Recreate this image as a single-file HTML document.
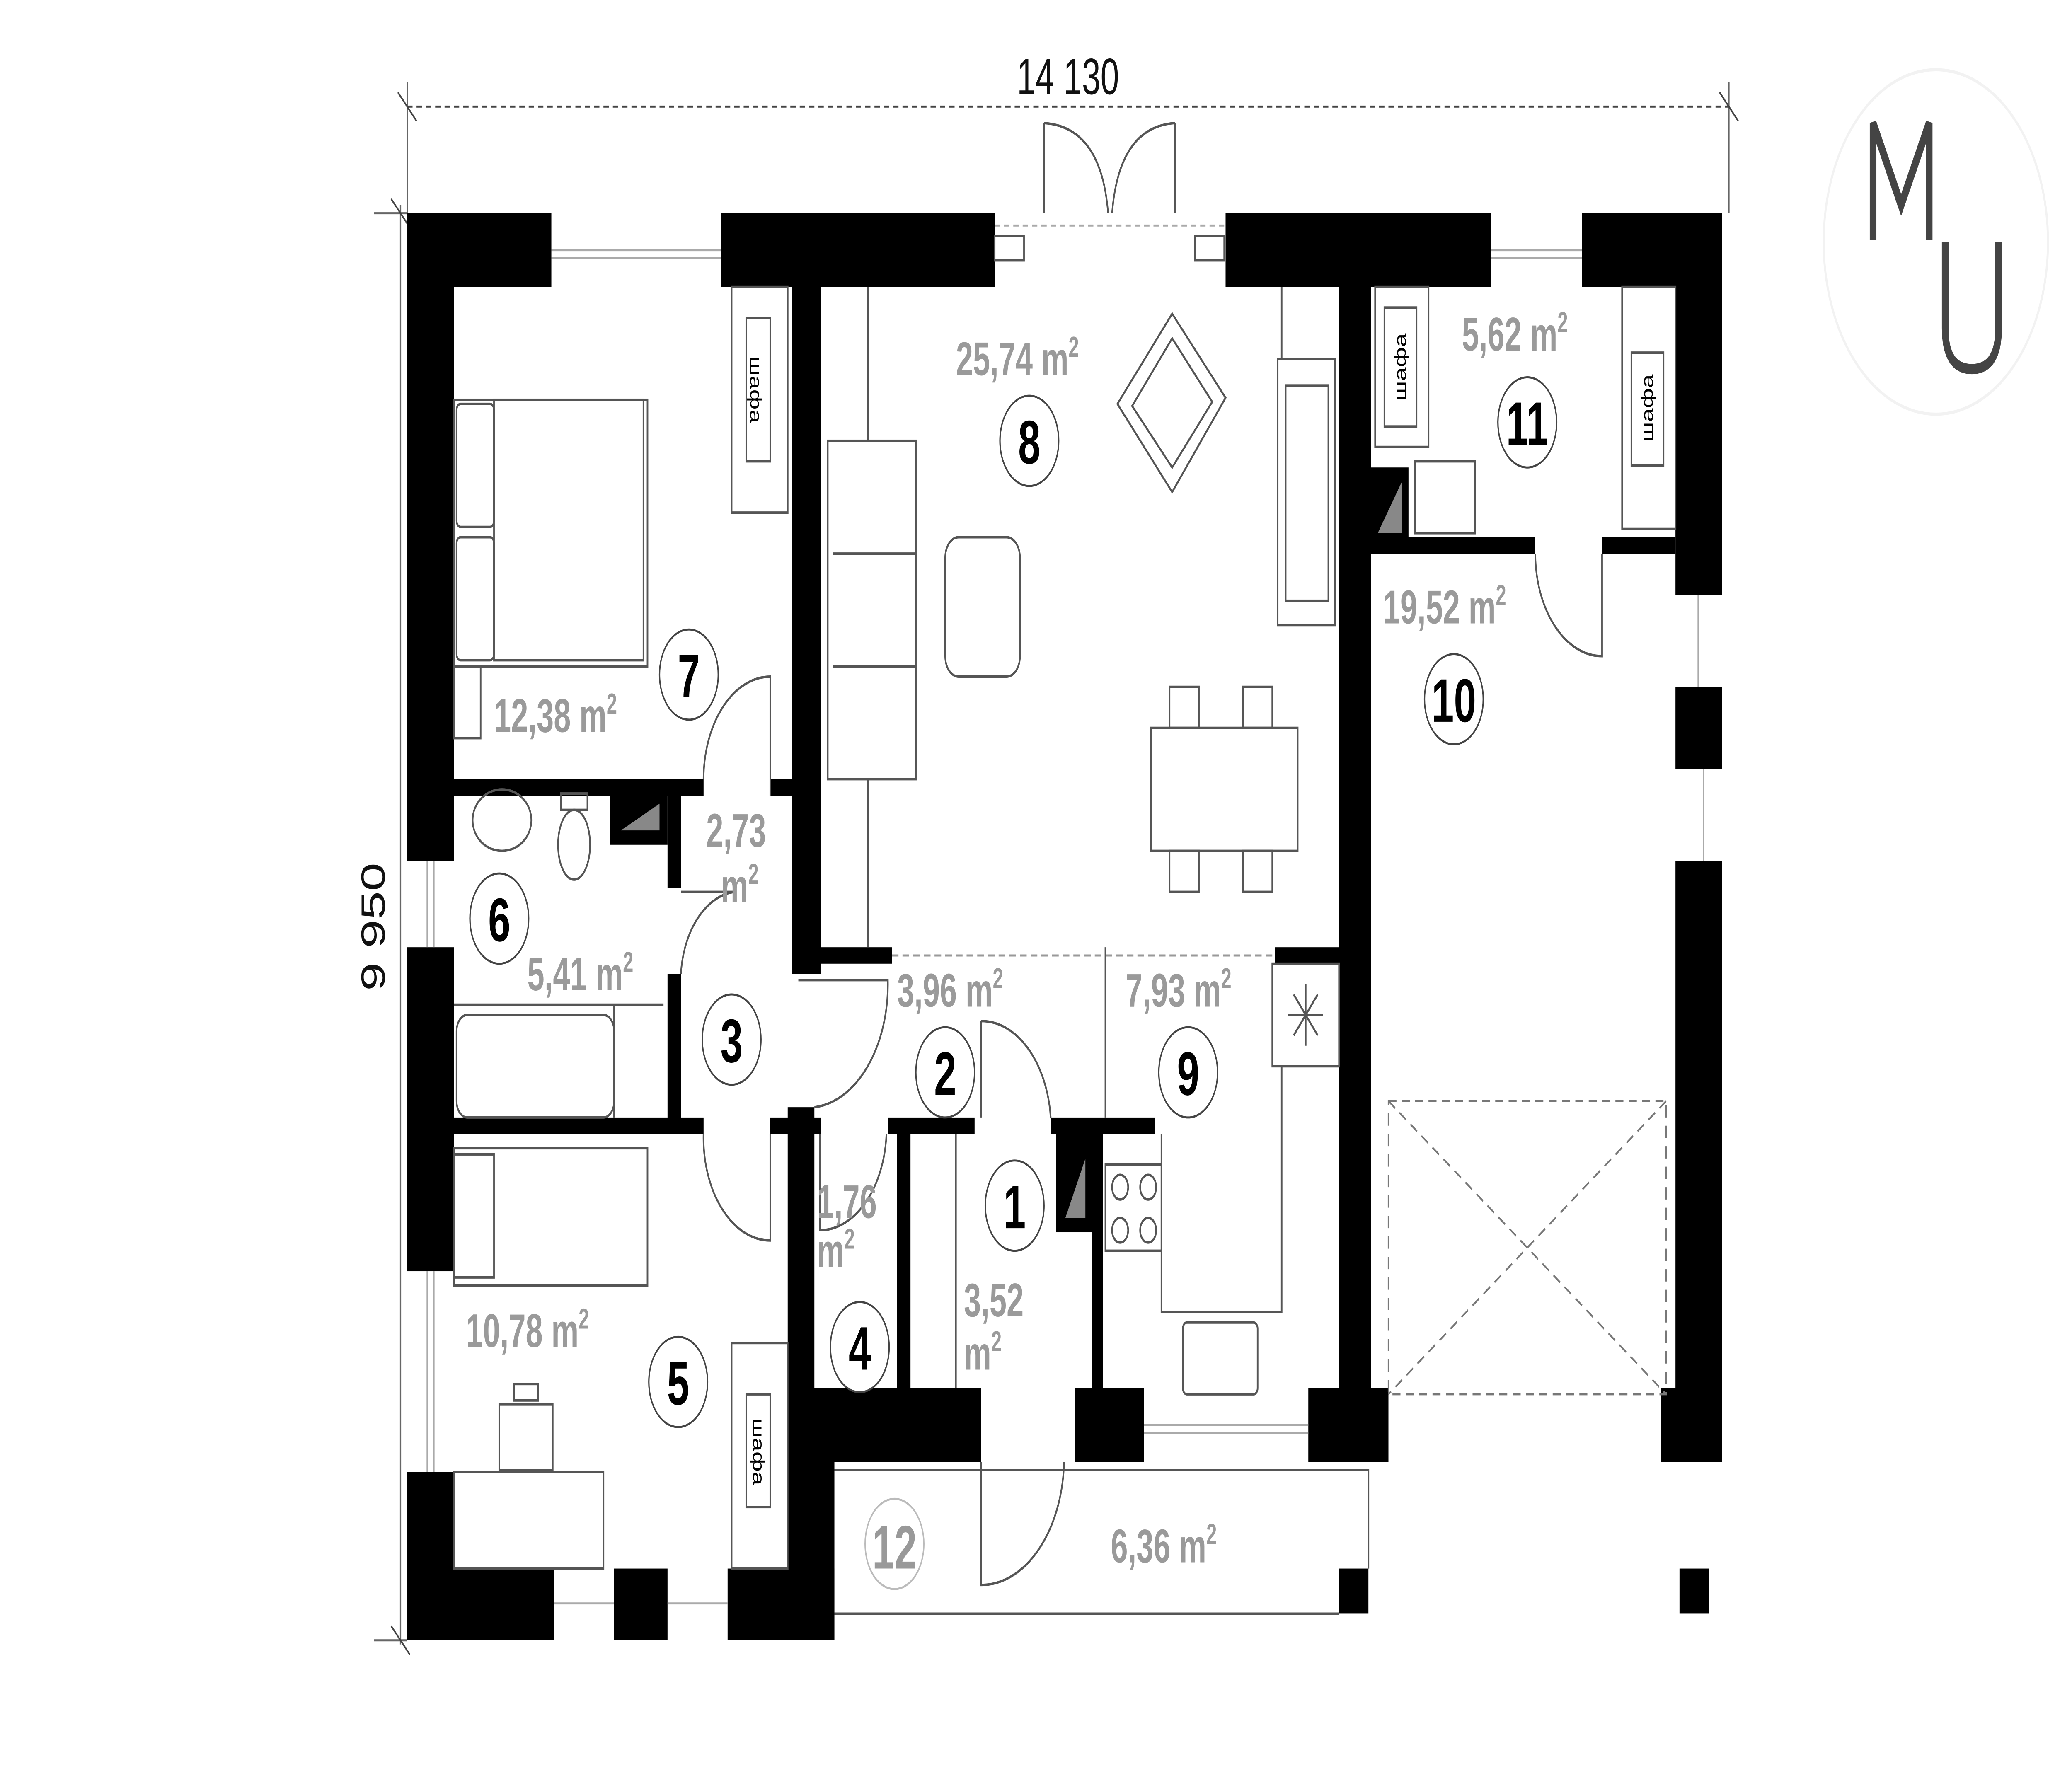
<!DOCTYPE html>
<html><head><meta charset="utf-8"><style>
html,body{margin:0;padding:0;background:#fff;width:100%;height:100%;overflow:hidden;}
svg{display:block;width:100vw;height:100vh;}
.a{font-family:"Liberation Sans",sans-serif;font-weight:bold;font-size:23px;fill:#9a9a9a;}
.n{font-family:"Liberation Sans",sans-serif;font-weight:bold;font-size:30px;fill:#000;text-anchor:middle;}
.t{fill:none;stroke:#555;stroke-width:1.2;}
.l{fill:none;stroke:#aaa;stroke-width:1;}
.w{fill:#fff;stroke:#444;stroke-width:1;}
.s{font-family:"Liberation Sans",sans-serif;font-size:12px;fill:#000;}
</style></head><body>
<svg viewBox="0 0 1552 873" preserveAspectRatio="none" xmlns="http://www.w3.org/2000/svg">
<rect width="1552" height="873" fill="#fff"/>
<line x1="305" y1="52" x2="1295" y2="52" stroke="#444" stroke-width="1" stroke-dasharray="4,3"/>
<line x1="305" y1="40" x2="305" y2="104" stroke="#666"/>
<line x1="1295" y1="40" x2="1295" y2="104" stroke="#666"/>
<line x1="298" y1="45" x2="312" y2="59" stroke="#444"/>
<line x1="1288" y1="45" x2="1302" y2="59" stroke="#444"/>
<text x="800" y="46" font-family="Liberation Sans,sans-serif" font-size="25" text-anchor="middle" fill="#111">14 130</text>
<line x1="300" y1="100" x2="300" y2="802" stroke="#666"/>
<line x1="280" y1="104" x2="305" y2="104" stroke="#666"/>
<line x1="280" y1="800" x2="305" y2="800" stroke="#666"/>
<line x1="293" y1="97" x2="307" y2="111" stroke="#444"/>
<line x1="293" y1="793" x2="307" y2="807" stroke="#444"/>
<text x="0" y="0" transform="translate(288,452) rotate(-90)" font-family="Liberation Sans,sans-serif" font-size="25" text-anchor="middle" fill="#111">9 950</text>
<circle cx="1450" cy="118" r="84" fill="none" stroke="#f2f2f2" stroke-width="1.5"/>
<path d="M1403 117 V60 L1424 100 L1445 60 V117" fill="none" stroke="#444" stroke-width="5"/>
<path d="M1457 118 V160 Q1457 180 1477 180 Q1497 180 1497 160 V118" fill="none" stroke="#444" stroke-width="5"/>
<g fill="#000">
<rect x="305" y="104" width="108" height="36"/>
<rect x="540" y="104" width="205" height="36"/>
<rect x="918" y="104" width="199" height="36"/>
<rect x="1185" y="104" width="105" height="36"/>
<rect x="305" y="104" width="35" height="316"/>
<rect x="305" y="462" width="35" height="158"/>
<rect x="305" y="718" width="35" height="82"/>
<rect x="305" y="765" width="110" height="35"/>
<rect x="460" y="765" width="40" height="35"/>
<rect x="545" y="765" width="80" height="35"/>
<rect x="590" y="685" width="35" height="115"/>
<rect x="590" y="677" width="145" height="36"/>
<rect x="805" y="677" width="52" height="36"/>
<rect x="980" y="677" width="60" height="36"/>
<rect x="1244" y="677" width="46" height="36"/>
<rect x="1255" y="104" width="35" height="186"/>
<rect x="1255" y="335" width="35" height="40"/>
<rect x="1255" y="420" width="35" height="293"/>
<rect x="1003" y="140" width="24" height="545"/>
<rect x="593" y="140" width="22" height="335"/>
<rect x="590" y="540" width="20" height="145"/>
<rect x="1027" y="262" width="123" height="8"/>
<rect x="1200" y="262" width="55" height="8"/>
<rect x="340" y="380" width="187" height="8"/>
<rect x="577" y="380" width="16" height="8"/>
<rect x="500" y="388" width="10" height="45"/>
<rect x="500" y="475" width="10" height="73"/>
<rect x="340" y="545" width="187" height="8"/>
<rect x="577" y="545" width="38" height="8"/>
<rect x="665" y="545" width="65" height="8"/>
<rect x="787" y="545" width="78" height="8"/>
<rect x="610" y="462" width="58" height="8"/>
<rect x="955" y="462" width="48" height="8"/>
<rect x="672" y="553" width="10" height="128"/>
<rect x="818" y="553" width="8" height="128"/>
<rect x="457" y="388" width="43" height="24"/>
<rect x="791" y="553" width="27" height="48"/>
<rect x="1027" y="228" width="28" height="37"/>
<rect x="1003" y="765" width="22" height="22"/>
<rect x="1258" y="765" width="22" height="22"/>
</g>
<polygon points="465,405 494,405 494,392" fill="#888"/>
<polygon points="798,594 813,594 813,565" fill="#888"/>
<polygon points="1032,260 1050,260 1050,235" fill="#888"/>
<line x1="668" y1="466" x2="955" y2="466" stroke="#999" stroke-dasharray="5,3"/>
<g class="l">
<line x1="413" y1="122" x2="540" y2="122"/><line x1="413" y1="126" x2="540" y2="126"/>
<line x1="1117" y1="122" x2="1185" y2="122"/><line x1="1117" y1="126" x2="1185" y2="126"/>
<line x1="320" y1="420" x2="320" y2="462"/><line x1="325" y1="420" x2="325" y2="462"/>
<line x1="320" y1="620" x2="320" y2="718"/><line x1="325" y1="620" x2="325" y2="718"/>
<line x1="415" y1="782" x2="460" y2="782"/><line x1="500" y1="782" x2="545" y2="782"/>
<line x1="857" y1="695" x2="980" y2="695"/><line x1="857" y1="699" x2="980" y2="699"/>
<line x1="1272" y1="290" x2="1272" y2="335"/><line x1="1276" y1="375" x2="1276" y2="420"/>
<line x1="745" y1="110" x2="918" y2="110" stroke-dasharray="4,3"/>
</g>
<g class="t">
<rect x="745" y="115" width="22" height="12"/><rect x="895" y="115" width="22" height="12"/>
<path d="M782 60 V104 M782 60 Q825 62 830 104 M880 60 V104 M880 60 Q838 62 833 104"/>
<path d="M577 388 V330 A50 50 0 0 0 527 380"/>
<path d="M510 435 H550 A44 44 0 0 0 510 475"/>
<path d="M577 553 V605 A50 50 0 0 1 527 553"/>
<path d="M598 478 H665 A60 60 0 0 1 610 540"/>
<path d="M614 553 V600 A50 50 0 0 0 664 553"/>
<path d="M735 498 V545 M735 498 A52 52 0 0 1 787 545"/>
<path d="M1200 270 V320 A50 50 0 0 1 1150 270"/>
<path d="M735 713 V773 A62 62 0 0 0 797 713"/>
<path d="M625 717 H1025 V765 M1003 787 H625"/>
</g>
<g fill="none" stroke="#777" stroke-dasharray="6,4">
<rect x="1040" y="537" width="208" height="143"/>
<line x1="1040" y1="537" x2="1248" y2="680"/><line x1="1248" y1="537" x2="1040" y2="680"/>
</g>
<g class="t">
<rect x="340" y="195" width="145" height="130"/>
<rect x="370" y="195" width="112" height="127"/>
<rect x="342" y="197" width="28" height="60" rx="3"/><rect x="342" y="262" width="28" height="60" rx="3"/>
<rect x="340" y="325" width="20" height="35"/>
<rect x="548" y="140" width="42" height="110"/>
<rect x="559" y="155" width="18" height="70"/>
<rect x="620" y="215" width="66" height="165"/>
<line x1="624" y1="270" x2="686" y2="270"/><line x1="624" y1="325" x2="686" y2="325"/>
<rect x="708" y="262" width="56" height="68" rx="10"/>
<polygon points="878,153 918,194 878,240 837,197"/><polygon points="878,165 908,196 878,228 848,198"/>
<rect x="957" y="175" width="43" height="130"/><rect x="963" y="188" width="32" height="105"/>
<rect x="862" y="355" width="110" height="60"/>
<rect x="876" y="335" width="22" height="20"/><rect x="931" y="335" width="22" height="20"/>
<rect x="876" y="415" width="22" height="20"/><rect x="931" y="415" width="22" height="20"/>
<line x1="650" y1="140" x2="650" y2="215"/><line x1="650" y1="380" x2="650" y2="462"/>
<line x1="960" y1="140" x2="960" y2="175"/>
<ellipse cx="376" cy="400" rx="22" ry="15"/>
<rect x="420" y="387" width="20" height="8"/><ellipse cx="430" cy="412" rx="12" ry="17"/>
<rect x="342" y="495" width="118" height="50" rx="8"/><line x1="460" y1="490" x2="460" y2="545"/><line x1="340" y1="490" x2="497" y2="490"/>
<rect x="340" y="563" width="30" height="60"/>
<rect x="340" y="560" width="145" height="67"/>
<rect x="374" y="685" width="40" height="32"/><rect x="385" y="675" width="18" height="8"/>
<rect x="340" y="718" width="112" height="47"/>
<rect x="548" y="655" width="42" height="110"/><rect x="559" y="680" width="18" height="55"/>
<rect x="1030" y="140" width="40" height="78"/><rect x="1037" y="150" width="24" height="58"/>
<rect x="1215" y="140" width="40" height="118"/><rect x="1222" y="172" width="24" height="55"/>
<rect x="1060" y="225" width="45" height="35"/>
<rect x="828" y="568" width="42" height="42"/>
<circle cx="839" cy="579" r="6"/><circle cx="860" cy="579" r="6"/><circle cx="839" cy="600" r="6"/><circle cx="860" cy="600" r="6"/>
<path d="M870 553 V640 H960 V520 H1003"/>
<rect x="953" y="470" width="50" height="50"/>
<path d="M965 495 H991 M978 480 V510 M969 485 L987 505 M987 485 L969 505"/>
<rect x="886" y="645" width="56" height="35" rx="3"/>
<line x1="716" y1="553" x2="716" y2="677"/>
<line x1="828" y1="462" x2="828" y2="545"/>
</g>
<g class="s">
<text transform="translate(566,190) rotate(90)" text-anchor="middle" dy="4">шафа</text>
<text transform="translate(568,708) rotate(90)" text-anchor="middle" dy="4">шафа</text>
<text transform="translate(1049,179) rotate(-90)" text-anchor="middle" dy="4">шафа</text>
<text transform="translate(1234,199) rotate(-90)" text-anchor="middle" dy="4">шафа</text>
</g>
<g class="a">
<text x="716" y="183">25,74 m<tspan dy="-9" font-size="14">2</tspan></text>
<text x="370" y="357">12,38 m<tspan dy="-9" font-size="14">2</tspan></text>
<text x="529" y="413">2,73</text><text x="540" y="440">m<tspan dy="-9" font-size="14">2</tspan></text>
<text x="395" y="483">5,41 m<tspan dy="-9" font-size="14">2</tspan></text>
<text x="672" y="491">3,96 m<tspan dy="-9" font-size="14">2</tspan></text>
<text x="843" y="491">7,93 m<tspan dy="-9" font-size="14">2</tspan></text>
<text x="1036" y="304">19,52 m<tspan dy="-9" font-size="14">2</tspan></text>
<text x="1095" y="171">5,62 m<tspan dy="-9" font-size="14">2</tspan></text>
<text x="612" y="594">1,76</text><text x="612" y="618">m<tspan dy="-9" font-size="14">2</tspan></text>
<text x="722" y="642">3,52</text><text x="722" y="668">m<tspan dy="-9" font-size="14">2</tspan></text>
<text x="349" y="657">10,78 m<tspan dy="-9" font-size="14">2</tspan></text>
<text x="832" y="762">6,36 m<tspan dy="-9" font-size="14">2</tspan></text>
</g>
<circle cx="771" cy="215" r="22" class="w"/><text x="771" y="226" class="n">8</text>
<circle cx="516" cy="329" r="22" class="w"/><text x="516" y="340" class="n">7</text>
<circle cx="374" cy="448" r="22" class="w"/><text x="374" y="459" class="n">6</text>
<circle cx="548" cy="507" r="22" class="w"/><text x="548" y="518" class="n">3</text>
<circle cx="708" cy="523" r="22" class="w"/><text x="708" y="534" class="n">2</text>
<circle cx="890" cy="523" r="22" class="w"/><text x="890" y="534" class="n">9</text>
<circle cx="760" cy="588" r="22" class="w"/><text x="760" y="599" class="n">1</text>
<circle cx="644" cy="657" r="22" class="w"/><text x="644" y="668" class="n">4</text>
<circle cx="508" cy="674" r="22" class="w"/><text x="508" y="685" class="n">5</text>
<circle cx="1089" cy="341" r="22" class="w"/><text x="1089" y="352" class="n">10</text>
<circle cx="1144" cy="206" r="22" class="w"/><text x="1144" y="217" class="n">11</text>
<circle cx="670" cy="753" r="22" fill="#fff" stroke="#bbb"/><text x="670" y="765" class="n" style="fill:#999">12</text>
</svg>
</body></html>
